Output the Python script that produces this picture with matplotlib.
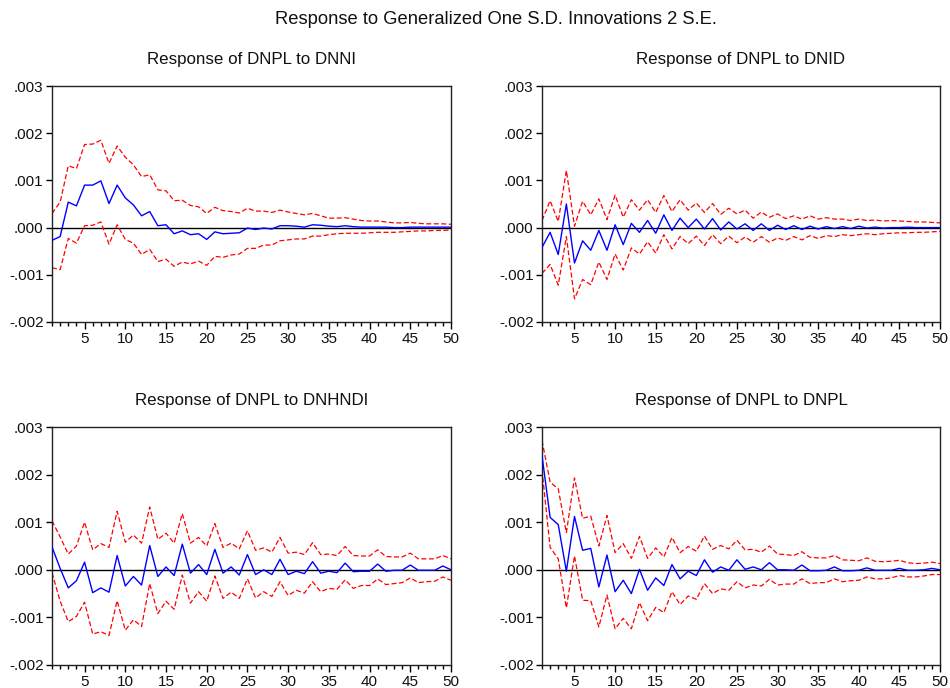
import matplotlib
matplotlib.use("Agg")
import matplotlib.pyplot as plt
from matplotlib.ticker import FuncFormatter, MultipleLocator

# ---------------------------------------------------------------------------
# Dados: resposta (azul) e bandas +/- 2 S.E. (vermelho), períodos 1..50
# ---------------------------------------------------------------------------
periodos = list(range(1, 51))

resp_dnni = [-0.00027, -0.00019, 0.00054, 0.00046, 0.0009, 0.0009, 0.00099, 0.00051, 0.0009, 0.00063,
             0.00048, 0.00025, 0.00034, 0.00004, 0.00006, -0.00013, -0.00007, -0.00015, -0.00013, -0.00025,
             -0.00009, -0.00013, -0.00012, -0.00011, -0.00001, -0.00004, -0.00001, -0.00003, 0.00004, 0.00004,
             0.00003, 0.00001, 0.00006, 0.00005, 0.00003, 0.00002, 0.00004, 0.00002, 0.00001, 0.00001,
             0.00001, 0.00001, 0.0, 0.0, 0.00001, 0.00001, 0.00001, 0.00001, 0.00001, 0.00001]
hi_dnni = [0.0003, 0.00054, 0.00131, 0.00125, 0.00176, 0.00177, 0.00185, 0.00136, 0.00173, 0.00149,
           0.00133, 0.00108, 0.00112, 0.0008, 0.00078, 0.00057, 0.00058, 0.00047, 0.00044, 0.0003,
           0.00043, 0.00036, 0.00034, 0.00031, 0.00041, 0.00035, 0.00035, 0.00032, 0.00037, 0.00033,
           0.0003, 0.00027, 0.0003, 0.00025, 0.0002, 0.0002, 0.00021, 0.00018, 0.00015, 0.00014,
           0.00014, 0.00012, 0.0001, 0.0001, 0.00011, 0.00009, 0.00008, 0.00008, 0.00008, 0.00007]
lo_dnni = [-0.00085, -0.00089, -0.00023, -0.00033, 0.00004, 0.00005, 0.00012, -0.00035, 0.00006, -0.00025,
           -0.00033, -0.00057, -0.00046, -0.00072, -0.00067, -0.00082, -0.00073, -0.00077, -0.00071, -0.0008,
           -0.00061, -0.00063, -0.00058, -0.00056, -0.00044, -0.00044, -0.00037, -0.00037, -0.00028, -0.00026,
           -0.00024, -0.00024, -0.00018, -0.00018, -0.00015, -0.00013, -0.00012, -0.00012, -0.00012, -0.00011,
           -0.0001, -0.0001, -0.0001, -0.00009, -0.00008, -0.00007, -0.00007, -0.00006, -0.00006, -0.00005]

resp_dnid = [-0.00042, -0.0001, -0.00057, 0.0005, -0.00075, -0.00028, -0.00048, -0.00006, -0.00048, 0.00006,
             -0.00036, 0.00009, -0.0001, 0.00015, -0.00012, 0.00027, -0.00006, 0.0002, 0.0, 0.00018,
             -0.00003, 0.00019, -0.00005, 0.00012, -0.00003, 0.00008, -0.00006, 0.00008, -0.00006, 0.00005,
             -0.00004, 0.00004, -0.00004, 0.00003, -0.00003, 0.00002, -0.00002, 0.00002, -0.00002, 0.00003,
             -0.00001, 0.00001, -0.00001, 0.0, 0.0, 0.00001, 0.0, 0.0, 0.0, 0.0]
hi_dnid = [0.00015, 0.00057, 0.00013, 0.00121, 0.00003, 0.00056, 0.00027, 0.00061, 0.00017, 0.00069,
           0.00022, 0.00059, 0.00037, 0.00059, 0.00032, 0.00068, 0.00034, 0.00059, 0.00037, 0.00052,
           0.00032, 0.00051, 0.00028, 0.00041, 0.00029, 0.00037, 0.0002, 0.00033, 0.00022, 0.00029,
           0.00019, 0.00025, 0.00018, 0.00025, 0.00018, 0.00021, 0.00018, 0.00018, 0.00015, 0.00018,
           0.00015, 0.00016, 0.00014, 0.00015, 0.00014, 0.00013, 0.00012, 0.00012, 0.00011, 0.0001]
lo_dnid = [-0.00097, -0.00078, -0.00122, -0.00019, -0.00151, -0.0011, -0.00121, -0.00073, -0.0011, -0.00056,
           -0.0009, -0.00043, -0.00056, -0.0003, -0.00054, -0.00015, -0.00045, -0.00019, -0.00034, -0.00018,
           -0.00038, -0.00015, -0.00034, -0.00018, -0.00032, -0.0002, -0.00031, -0.00019, -0.00031, -0.00022,
           -0.00027, -0.00019, -0.00026, -0.00017, -0.00023, -0.00017, -0.00019, -0.00015, -0.00017, -0.00015,
           -0.00013, -0.00015, -0.00013, -0.00012, -0.00011, -0.00011, -0.0001, -0.0001, -0.00009, -0.00008]

resp_dnhndi = [0.00048, 0.00003, -0.00038, -0.00023, 0.00016, -0.00048, -0.00038, -0.00047, 0.0003, -0.00034,
               -0.00014, -0.00032, 0.00051, -0.00014, 0.00006, -0.00012, 0.00054, -0.00007, 0.00011, -0.0001,
               0.00043, -0.00007, 0.00006, -0.00011, 0.00032, -0.0001, 0.0, -0.0001, 0.00022, -0.0001,
               -0.00003, -0.00008, 0.00017, -0.00007, -0.00003, -0.00006, 0.00014, -0.00004, -0.00003, -0.00003,
               0.00012, -0.00003, -0.00001, -0.00001, 0.0001, -0.00001, -0.00001, -0.00001, 0.00008, 0.0]
hi_dnhndi = [0.00103, 0.00069, 0.00033, 0.0005, 0.001, 0.00042, 0.00055, 0.00047, 0.00123, 0.00058,
             0.00073, 0.00056, 0.00132, 0.00064, 0.00077, 0.00056, 0.00118, 0.00056, 0.00068, 0.0005,
             0.00097, 0.00047, 0.00056, 0.00044, 0.00082, 0.00041, 0.00046, 0.00037, 0.00068, 0.00035,
             0.00037, 0.00032, 0.00057, 0.00032, 0.00033, 0.0003, 0.00049, 0.0003, 0.00029, 0.00029,
             0.00042, 0.00028, 0.00027, 0.00027, 0.00035, 0.00023, 0.00023, 0.00023, 0.0003, 0.00023]
lo_dnhndi = [-0.00006, -0.00066, -0.00109, -0.00098, -0.00068, -0.00135, -0.0013, -0.00138, -0.00065, -0.00127,
             -0.00105, -0.00119, -0.00029, -0.00092, -0.00066, -0.00083, -0.00011, -0.0007, -0.00046, -0.00066,
             -0.00013, -0.0006, -0.00047, -0.0006, -0.00019, -0.00059, -0.00046, -0.00056, -0.00025, -0.00054,
             -0.00043, -0.00049, -0.00025, -0.00046, -0.00039, -0.00041, -0.00021, -0.00039, -0.00033, -0.00033,
             -0.00019, -0.00031, -0.00029, -0.00027, -0.00017, -0.00027, -0.00025, -0.00024, -0.00015, -0.00022]

resp_dnpl = [0.0024, 0.0011, 0.00095, -0.00003, 0.00112, 0.00041, 0.00045, -0.00036, 0.00031, -0.00046,
             -0.00022, -0.0005, 0.00001, -0.00043, -0.00017, -0.00033, 0.00011, -0.00019, -0.00003, -0.00012,
             0.00021, -0.00005, 0.00006, -0.00001, 0.00021, 0.00001, 0.00006, 0.0, 0.00015, 0.0,
             0.0, -0.00001, 0.0001, -0.00002, -0.00002, -0.00001, 0.00006, -0.00002, -0.00002, -0.00001,
             0.00004, -0.00001, -0.00001, -0.00001, 0.00003, -0.00001, -0.00001, 0.0, 0.00003, 0.0]
hi_dnpl = [0.00272, 0.00184, 0.0017, 0.00078, 0.00193, 0.00108, 0.00113, 0.0005, 0.00114, 0.00036,
           0.00055, 0.00024, 0.0007, 0.00024, 0.00046, 0.00027, 0.00068, 0.00036, 0.00049, 0.00039,
           0.00071, 0.00043, 0.00051, 0.00044, 0.00062, 0.00042, 0.00043, 0.00037, 0.0005, 0.00033,
           0.00032, 0.0003, 0.00038, 0.00026, 0.00025, 0.00025, 0.0003, 0.00021, 0.0002, 0.00019,
           0.00025, 0.00018, 0.00017, 0.00018, 0.0002, 0.00015, 0.00013, 0.00014, 0.00016, 0.00013]
lo_dnpl = [0.0021, 0.00047, 0.00023, -0.0008, 0.00029, -0.00064, -0.00065, -0.0012, -0.00053, -0.00124,
           -0.00102, -0.00124, -0.00069, -0.00107, -0.00079, -0.0009, -0.00046, -0.00073, -0.00055, -0.00062,
           -0.00029, -0.0005, -0.0004, -0.00043, -0.00025, -0.00038, -0.00032, -0.00034, -0.0002, -0.00032,
           -0.0003, -0.0003, -0.00019, -0.00029, -0.00027, -0.00027, -0.00019, -0.00025, -0.00023, -0.00022,
           -0.00015, -0.00019, -0.00019, -0.00017, -0.00012, -0.00015, -0.00015, -0.00013, -0.0001, -0.0001]

titulos = ["Response of DNPL to DNNI", "Response of DNPL to DNID",
           "Response of DNPL to DNHNDI", "Response of DNPL to DNPL"]
series = [(resp_dnni, lo_dnni, hi_dnni), (resp_dnid, lo_dnid, hi_dnid),
          (resp_dnhndi, lo_dnhndi, hi_dnhndi), (resp_dnpl, lo_dnpl, hi_dnpl)]

# ---------------------------------------------------------------------------
# Estilo
# ---------------------------------------------------------------------------
plt.rcParams.update({
    "font.family": ["Liberation Sans", "DejaVu Sans"],
    "font.size": 11,
    "axes.linewidth": 1.0,
    "axes.edgecolor": "#222222",
    "text.color": "#111111",
})

W, H = 950, 688
# posições das caixas (px): esquerda, topo, direita, baixo
caixas = [(52, 86, 451, 322), (542, 86, 940, 322),
          (52, 427, 451, 665), (542, 427, 940, 665)]


def fmt_y(v, _):
    s = f"{v:.3f}"
    return s.replace("0.", ".", 1)


fig = plt.figure(figsize=(W / 100, H / 100), dpi=100)
# título centrado no conjunto das caixas (52..940 px)
fig.text(496 / W, 1 - 19 / H, "Response to Generalized One S.D. Innovations 2 S.E.",
         ha="center", va="center", fontsize=13.2)

for (x0, y0, x1, y1), titulo, (resp, lo, hi) in zip(caixas, titulos, series):
    ax = fig.add_axes([x0 / W, 1 - y1 / H, (x1 - x0) / W, (y1 - y0) / H])
    ax.axhline(0, color="black", lw=1.0, zorder=1)
    ax.plot(periodos, hi, color="#FF0000", lw=0.9, ls=(0, (4, 2)), zorder=2)
    ax.plot(periodos, lo, color="#FF0000", lw=0.9, ls=(0, (4, 2)), zorder=2)
    ax.plot(periodos, resp, color="#0000FF", lw=1.0, zorder=3)
    ax.set_xlim(1, 50)
    ax.set_ylim(-0.002, 0.003)
    ax.xaxis.set_major_locator(MultipleLocator(5))
    ax.xaxis.set_minor_locator(MultipleLocator(1))
    ax.yaxis.set_major_locator(MultipleLocator(0.001))
    ax.yaxis.set_major_formatter(FuncFormatter(fmt_y))
    ax.tick_params(axis="x", which="major", direction="out", length=5, width=1,
                   labelsize=11, pad=2, labelcolor="#111111")
    ax.tick_params(axis="x", which="minor", direction="out", length=3, width=1)
    ax.tick_params(axis="y", direction="out", length=4, width=1, labelsize=11, pad=2,
                   labelcolor="#111111")
    ax.set_title(titulo, fontsize=12.2, pad=16)

fig.savefig("out.png", dpi=100)
